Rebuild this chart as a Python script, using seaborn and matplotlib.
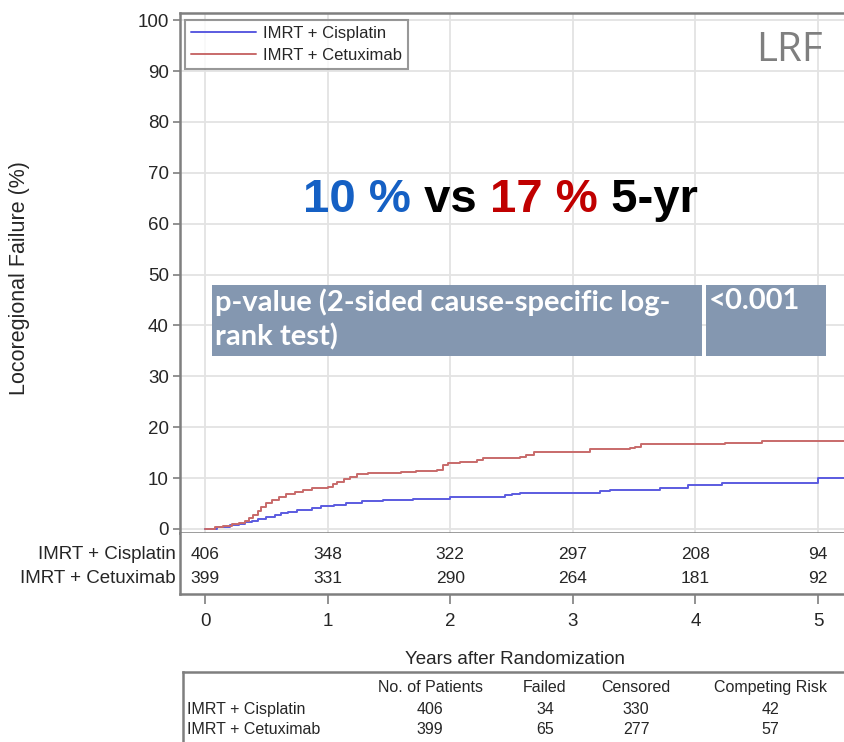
import numpy as np
import pandas as pd
import matplotlib
matplotlib.use("Agg")
import matplotlib.pyplot as plt
import seaborn as sns
from matplotlib.patches import Rectangle
from matplotlib.lines import Line2D

# ---- cumulative incidence of locoregional failure (%) ----
arms = ["IMRT + Cisplatin", "IMRT + Cetuximab"]

cis_years = [0, 0.10, 0.20, 0.28, 0.33, 0.38, 0.43, 0.50, 0.57, 0.62, 0.68, 0.75,
             0.87, 0.95, 1.05, 1.15, 1.28, 1.45, 1.70, 2.00, 2.45, 2.50, 2.57,
             3.22, 3.30, 3.71, 3.94, 4.22, 5.00, 5.26]
cis_fail = [0, 0.3, 0.7, 1.0, 1.3, 1.6, 2.0, 2.3, 2.7, 3.1, 3.4, 3.8,
            4.1, 4.5, 4.8, 5.1, 5.5, 5.7, 5.9, 6.3, 6.7, 6.9, 7.1,
            7.4, 7.7, 8.1, 8.6, 9.0, 10.0, 10.0]

cet_years = [0, 0.08, 0.15, 0.22, 0.28, 0.33, 0.36, 0.39, 0.43, 0.46, 0.50, 0.55,
             0.60, 0.66, 0.73, 0.80, 0.87, 1.00, 1.04, 1.08, 1.13, 1.18, 1.24,
             1.33, 1.60, 1.72, 1.89, 1.94, 1.98, 2.08, 2.22, 2.27, 2.57, 2.62,
             2.68, 3.14, 3.47, 3.51, 3.56, 4.24, 4.54, 5.26]
cet_fail = [0, 0.3, 0.6, 0.9, 1.2, 1.5, 2.2, 2.8, 3.6, 4.3, 5.0, 5.7,
            6.3, 6.8, 7.3, 7.6, 8.1, 8.3, 8.8, 9.3, 9.9, 10.3, 10.7,
            11.0, 11.2, 11.4, 11.6, 12.6, 13.0, 13.2, 13.5, 13.9, 14.1, 14.6,
            15.1, 15.7, 15.9, 16.1, 16.6, 16.8, 17.3, 17.3]

# ---- numbers at risk ----
risk_years = [0, 1, 2, 3, 4, 5]
risk_cis = [406, 348, 322, 297, 208, 94]
risk_cet = [399, 331, 290, 264, 181, 92]

# ---- summary table ----
summary_cols = ["No. of Patients", "Failed", "Censored", "Competing Risk"]
summary_cis = [406, 34, 330, 42]
summary_cet = [399, 65, 277, 57]

rate_cis = "10 %"
rate_cet = "17 %"
p_label = "p-value (2-sided cause-specific log-\nrank test)"
p_value = "<0.001"

colors = {"IMRT + Cisplatin": "#5b5be0", "IMRT + Cetuximab": "#c86a6a"}
frame_col = "#7f7f7f"
txt_col = "#262626"
base = ["Liberation Sans", "DejaVu Sans"]

sns.set_theme(style="white")
plt.rcParams["font.family"] = base

W, H = 844, 742
fig = plt.figure(figsize=(W / 100, H / 100), dpi=100)


def fx(px):
    return px / W


def fy(py):
    return 1 - py / H


XLIM = (-0.204, 5.261)

# ---- main panel ----
ax = fig.add_axes([fx(180), fy(533), fx(850) - fx(180), fy(13) - fy(533)])
df = pd.concat([
    pd.DataFrame({"Years": cis_years, "Failure": cis_fail, "Arm": arms[0]}),
    pd.DataFrame({"Years": cet_years, "Failure": cet_fail, "Arm": arms[1]}),
])
sns.lineplot(data=df, x="Years", y="Failure", hue="Arm", palette=colors,
             drawstyle="steps-post", estimator=None, sort=False,
             linewidth=1.4, legend=False, ax=ax)
ax.set_xlim(*XLIM)
ax.set_ylim(-0.8, 101.4)
ax.set_xticks(risk_years)
ax.set_yticks(range(0, 101, 10))
ax.grid(True, color="#e3e3e3", linewidth=1.3)
ax.set_axisbelow(True)
ax.tick_params(axis="x", length=0, labelbottom=False)
ax.tick_params(axis="y", length=5, width=1.2, color=frame_col, left=True,
               labelsize=13.5, labelcolor=txt_col, pad=3)
ax.set_xlabel("")
ax.set_ylabel("Locoregional Failure (%)", fontsize=15.5, color=txt_col, va="center")
ax.yaxis.set_label_coords(-0.239, 0.49)
for side, sp in ax.spines.items():
    sp.set_color(frame_col)
    sp.set_linewidth(1.8)
ax.spines["right"].set_visible(False)

handles = [Line2D([], [], color=colors[a], lw=1.4) for a in arms]
leg = ax.legend(handles, arms, loc="upper left", bbox_to_anchor=(fx(185), fy(20)),
                bbox_transform=fig.transFigure, borderaxespad=0, frameon=True,
                fancybox=False, edgecolor=frame_col, fontsize=12, handlelength=3.9,
                handletextpad=0.45, labelspacing=0.45, borderpad=0.35)
leg.get_frame().set_linewidth(1.5)
for t in leg.get_texts():
    t.set_color(txt_col)

# headline rates
t1 = ax.text(0.80, 62.3, rate_cis, color="#1560c4", fontsize=34, fontweight="bold",
             va="baseline", ha="left")
t2 = ax.annotate(" vs ", xy=(1, 0), xycoords=t1, va="bottom", ha="left",
                 fontsize=34, fontweight="bold", color="black")
t3 = ax.annotate(rate_cet, xy=(1, 0), xycoords=t2, va="bottom", ha="left",
                 fontsize=34, fontweight="bold", color="#c00000")
ax.annotate(" 5-yr", xy=(1, 0), xycoords=t3, va="bottom", ha="left",
            fontsize=34, fontweight="bold", color="black")

# p-value box
box_col = "#8497b0"
ax.add_patch(Rectangle((0.057, 34.0), 4.0, 13.9, facecolor=box_col, edgecolor="none", zorder=3))
ax.add_patch(Rectangle((4.085, 34.0), 0.98, 13.9, facecolor=box_col, edgecolor="none", zorder=3))
ax.text(0.08, 47.3, p_label, color="white", fontsize=21, fontweight="bold",
        family=["Lato", "DejaVu Sans"], va="top", ha="left", linespacing=1.35, zorder=4)
ax.text(4.105, 47.3, p_value, color="white", fontsize=21, fontweight="bold",
        family=["Lato", "DejaVu Sans"], va="top", ha="left", zorder=4)

fig.text(fx(823), fy(51), "LRF", color="#7f7f7f", fontsize=29,
         family=["Open Sans", "DejaVu Sans"], ha="right", va="center")

# ---- numbers-at-risk panel ----
rax = fig.add_axes([fx(180), fy(594), fx(850) - fx(180), fy(533) - fy(594)])
rax.set_xlim(*XLIM)
rax.set_ylim(0, 1)
rax.set_yticks([])
rax.set_xticks(risk_years)
rax.set_xticklabels([str(y) for y in risk_years])
rax.tick_params(axis="x", bottom=True, length=7, width=1.2, color=frame_col,
                labelsize=13.5, labelcolor=txt_col, pad=7)
for side, sp in rax.spines.items():
    sp.set_color(frame_col)
    sp.set_linewidth(1.8)
rax.spines["top"].set_visible(False)
rax.spines["right"].set_visible(False)
for yy, vals, name in [(0.64, risk_cis, arms[0]), (0.25, risk_cet, arms[1])]:
    for x, v in zip(risk_years, vals):
        rax.text(x, yy, str(v), ha="center", va="center", fontsize=12.5, color=txt_col)
    rax.text(-0.24, yy, name, ha="right", va="center", fontsize=13.5, color=txt_col)
rax.set_xlabel("Years after Randomization", fontsize=13.5, color=txt_col, labelpad=15)

# ---- summary table ----
tax = fig.add_axes([fx(183), 0, fx(850) - fx(183), fy(672)])
tax.set_xlim(183, 850)
tax.set_ylim(742, 672)
tax.set_xticks([])
tax.set_yticks([])
tax.patch.set_alpha(0)
for side, sp in tax.spines.items():
    sp.set_color(frame_col)
    sp.set_linewidth(1.8)
tax.spines["right"].set_visible(False)
tax.spines["bottom"].set_visible(False)
col_x = [430, 545, 636, 770]
for cx, name in zip(col_x, summary_cols):
    tax.text(cx, 687, name, ha="center", va="center", fontsize=11.5, color=txt_col)
for ry, name, vals in [(709, arms[0], summary_cis), (729, arms[1], summary_cet)]:
    tax.text(187, ry, name, ha="left", va="center", fontsize=11.5, color=txt_col)
    for cx, v in zip(col_x, vals):
        tax.text(cx, ry, str(v), ha="center", va="center", fontsize=11.5, color=txt_col)

fig.savefig("out.png", dpi=100)
